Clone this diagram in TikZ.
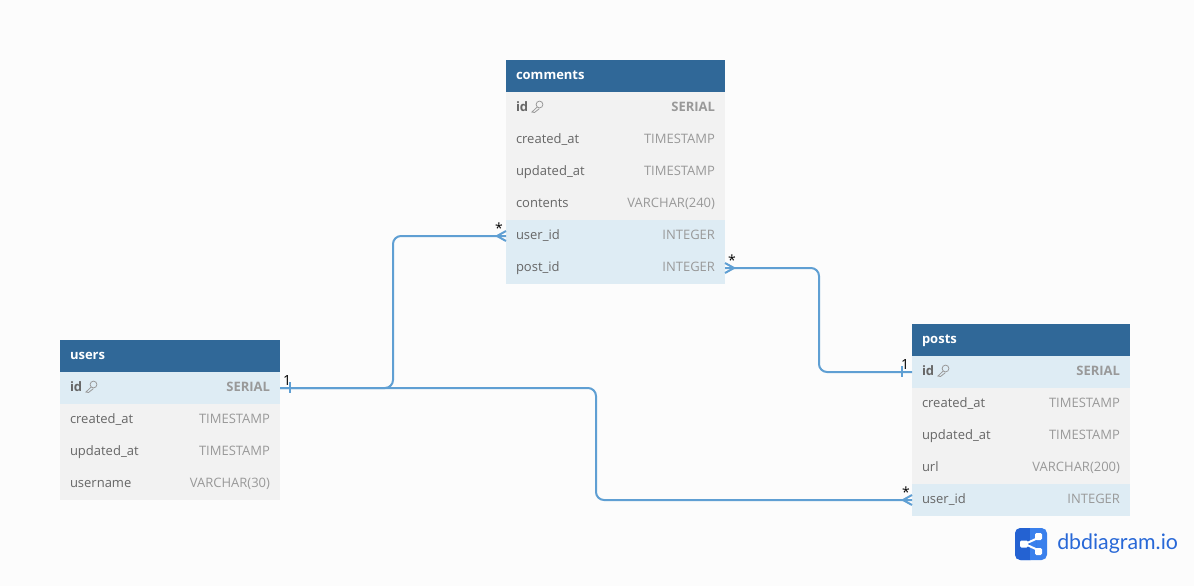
\documentclass[tikz,border=0pt]{standalone}
\usepackage{fontspec}
\setmainfont{Open Sans}
\newfontfamily\logofont{Lato}
\usetikzlibrary{positioning}
\definecolor{headblue}{HTML}{306898}
\definecolor{rowgray}{HTML}{F2F2F2}
\definecolor{rowblue}{HTML}{DEECF4}
\definecolor{linkblue}{HTML}{5F9FD3}
\definecolor{namegray}{HTML}{666666}
\definecolor{typegray}{HTML}{999999}
\definecolor{pagegray}{HTML}{FCFCFC}
\definecolor{logodark}{HTML}{2462D2}
\definecolor{logolight}{HTML}{3A80EC}
\newcommand{\typ}[1]{\textcolor{typegray}{#1}}
\newcommand{\pk}[1]{\textbf{#1}}
\newcommand{\pktyp}[1]{\textcolor{typegray}{\textbf{#1}}}
\newcommand{\keyicon}[1]{
  \draw[typegray, line width=0.6pt, shift={(#1)}] (2.5,-2.5) circle (3.4)
    (0,0.2) -- (-5,5) -- (-2.5,5.5) (0.2,0.4) ++(2,1.4) -- (-2.5,5.5);
}
\tikzset{
  cell/.style={anchor=north west, inner xsep=7.5pt, inner ysep=0pt, outer sep=0pt, text height=7.2pt, text depth=2pt,
    minimum height=24pt, font=\fontsize{9.75}{11}\selectfont, text=namegray},
  tblhead/.style={cell, fill=headblue, text=white, font=\fontsize{9.75}{11}\selectfont\bfseries},
  tblrow/.style={cell, fill=rowgray},
  fkrow/.style={cell, fill=rowblue},
  rel/.style={draw=linkblue, line width=1.5pt, rounded corners=6pt},
  tickend/.style={draw=linkblue, line width=1.5pt},
  cardlbl/.style={inner sep=0pt, font=\fontsize{10.5}{11}\selectfont, text=black},
}
\begin{document}
\begin{tikzpicture}[x=0.75pt, y=-0.75pt]
  \fill[pagegray] (0,0) rectangle (1194,586);
  \useasboundingbox (0,0) rectangle (1194,586);

  % comments
  \node[tblhead, text width=149.25pt] (comments) at (506,60) {comments};
  \node[tblrow, text width=149.25pt, below=0pt of comments] (c1) {\pk{id}\hfill\pktyp{SERIAL}};
  \node[tblrow, text width=149.25pt, below=0pt of c1] (c2) {created\_at\hfill\typ{TIMESTAMP}};
  \node[tblrow, text width=149.25pt, below=0pt of c2] (c3) {updated\_at\hfill\typ{TIMESTAMP}};
  \node[tblrow, text width=149.25pt, below=0pt of c3] (c4) {contents\hfill\typ{VARCHAR(240)}};
  \node[fkrow, text width=149.25pt, below=0pt of c4] (c5) {user\_id\hfill\typ{INTEGER}};
  \node[fkrow, text width=149.25pt, below=0pt of c5] (c6) {post\_id\hfill\typ{INTEGER}};

  % users
  \node[tblhead, text width=150pt] (users) at (60,340) {users};
  \node[fkrow, text width=150pt, below=0pt of users] (u1) {\pk{id}\hfill\pktyp{SERIAL}};
  \node[tblrow, text width=150pt, below=0pt of u1] (u2) {created\_at\hfill\typ{TIMESTAMP}};
  \node[tblrow, text width=150pt, below=0pt of u2] (u3) {updated\_at\hfill\typ{TIMESTAMP}};
  \node[tblrow, text width=150pt, below=0pt of u3] (u4) {username\hfill\typ{VARCHAR(30)}};

  % posts
  \node[tblhead, text width=148.5pt] (posts) at (912,324) {posts};
  \node[fkrow, text width=148.5pt, below=0pt of posts] (p1) {\pk{id}\hfill\pktyp{SERIAL}};
  \node[tblrow, text width=148.5pt, below=0pt of p1] (p2) {created\_at\hfill\typ{TIMESTAMP}};
  \node[tblrow, text width=148.5pt, below=0pt of p2] (p3) {updated\_at\hfill\typ{TIMESTAMP}};
  \node[tblrow, text width=148.5pt, below=0pt of p3] (p4) {url\hfill\typ{VARCHAR(200)}};
  \node[fkrow, text width=148.5pt, below=0pt of p4] (p5) {user\_id\hfill\typ{INTEGER}};

  \keyicon{537,107}
  \keyicon{91,387}
  \keyicon{943,371}

  % relations
  \draw[rel] (u1.east) -- ++(113,0) |- (c5.west);
  \draw[rel] (u1.east) -- ++(316,0) |- (p5.west);
  \draw[rel] (c6.east) -- ++(94,0) |- (p1.west);

  % line ends
  \draw[tickend] (u1.east) ++(10,-6) -- ++(0,11);
  \draw[tickend] (p1.west) ++(-10,-6) -- ++(0,11);
  \draw[tickend] (c5.west) ++(-9,0) -- ++(9,-5) (c5.west) ++(-9,0) -- ++(9,5);
  \draw[tickend] (p5.west) ++(-9,0) -- ++(9,-5) (p5.west) ++(-9,0) -- ++(9,5);
  \draw[tickend] (c6.east) ++(9,0) -- ++(-9,-5) (c6.east) ++(9,0) -- ++(-9,5);

  \node[cardlbl] (card1) at (287,380) {1};
  \node[cardlbl] (card2) at (499,228) {*};
  \node[cardlbl] (card3) at (732,260) {*};
  \node[cardlbl] (card4) at (905,364) {1};
  \node[cardlbl] (card5) at (906,492) {*};

  % logo
  \fill[logolight, rounded corners=4pt] (1015,528) rectangle (1047,560);
  \fill[logodark, rounded corners=4pt] (1015,528) rectangle (1036,560);
  \fill[logolight] (1030,528) rectangle (1036,560);
  \draw[white, line width=1.5pt] (1040,537) -- (1025,544) -- (1040,551);
  \fill[white, rounded corners=1pt] (1020,540.5) rectangle (1028,547.5)
    (1035,533) rectangle (1042,540) (1035,548) rectangle (1042,555);
  \node[anchor=west, inner sep=0pt, text=logodark!80!logolight, font=\logofont\fontsize{16}{17}\selectfont] (logotext) at (1057,544) {dbdiagram.io};
\end{tikzpicture}
\end{document}
